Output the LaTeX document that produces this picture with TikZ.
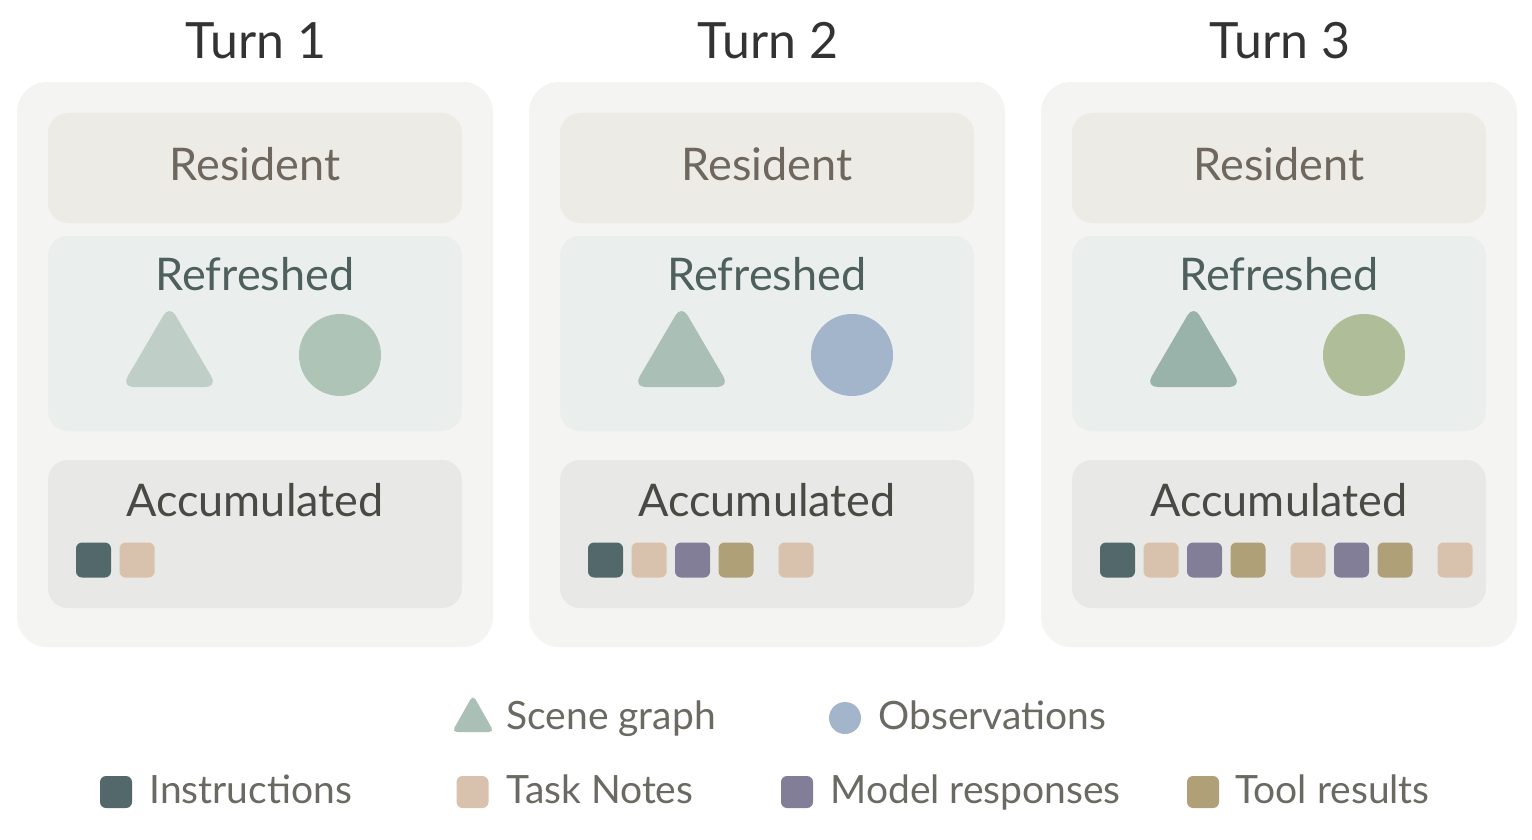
\documentclass[tikz,border=0pt]{standalone}
\usepackage{fontspec}
\setmainfont{Lato}
\definecolor{panelbg}{HTML}{F4F4F2}
\definecolor{resbg}{HTML}{ECEBE6}
\definecolor{refbg}{HTML}{EAEEEC}
\definecolor{accbg}{HTML}{E8E8E6}
\definecolor{titlec}{HTML}{333333}
\definecolor{resc}{HTML}{6E675E}
\definecolor{refc}{HTML}{4E605D}
\definecolor{accc}{HTML}{4A4A45}
\definecolor{legc}{HTML}{6A6962}
\definecolor{triA}{HTML}{BFCFC7}
\definecolor{triB}{HTML}{AABFB5}
\definecolor{triC}{HTML}{9AB3AA}
\definecolor{cirA}{HTML}{AEC4B6}
\definecolor{cirB}{HTML}{A3B5CB}
\definecolor{cirC}{HTML}{AFBE98}
\definecolor{instc}{HTML}{52686B}
\definecolor{taskc}{HTML}{D8C2AE}
\definecolor{modc}{HTML}{827E98}
\definecolor{toolc}{HTML}{B0A078}
\begin{document}
\begin{tikzpicture}[x=0.5pt,y=-0.5pt,
  panel/.style={rectangle, rounded corners=15pt, fill=panelbg, minimum width=238pt, minimum height=282.5pt, inner sep=0pt},
  inbox/.style={rectangle, rounded corners=10pt, minimum width=207pt, inner sep=0pt},
  titletext/.style={anchor=base, text=titlec, font=\fontsize{25}{30}\selectfont},
  boxtext/.style={anchor=base, font=\fontsize{22.5}{27}\selectfont},
  legtext/.style={anchor=base west, text=legc, font=\fontsize{19.5}{23}\selectfont, inner sep=0pt},
  sq/.style={rectangle, rounded corners=3pt, minimum size=17.5pt, inner sep=0pt},
  lsq/.style={rectangle, rounded corners=3pt, minimum size=16pt, inner sep=0pt},
  dot/.style={circle, inner sep=0pt}
]
\useasboundingbox (0,0) rectangle (1532,840);

\foreach \i/\ox/\tc/\cc in {1/0/triA/cirA, 2/512/triB/cirB, 3/1024/triC/cirC}{
  \node[titletext] (title\i) at (256+\ox,59) {Turn \i};
  \node[panel] (pan\i) at (255+\ox,364.5) {};
  \node[inbox, fill=resbg, minimum height=55pt] (res\i) at (255+\ox,168) {};
  \node[boxtext, text=resc] (reslab\i) at (255+\ox,181) {Resident};
  \node[inbox, fill=refbg, minimum height=97.5pt] (ref\i) at (255+\ox,333.5) {};
  \node[boxtext, text=refc] (reflab\i) at (255+\ox,290) {Refreshed};
  \fill[\tc, rounded corners=6pt] (169.5+\ox,305) -- (217.5+\ox,387) -- (121.5+\ox,387) -- cycle;
  \node[dot, fill=\cc, minimum size=41pt] (obs\i) at (340+\ox,355) {};
  \node[inbox, fill=accbg, minimum height=74pt] (acc\i) at (255+\ox,534) {};
  \node[boxtext, text=accc] (acclab\i) at (255+\ox,516) {Accumulated};
}

% accumulated squares
\node[sq, fill=instc] (a1) at (93.5,560) {};
\node[sq, fill=taskc] (a2) at (137,560) {};

\node[sq, fill=instc] (b1) at (605.5,560) {};
\node[sq, fill=taskc] (b2) at (649,560) {};
\node[sq, fill=modc]  (b3) at (692.5,560) {};
\node[sq, fill=toolc] (b4) at (736,560) {};
\node[sq, fill=taskc] (b5) at (796,560) {};

\node[sq, fill=instc] (c1) at (1117.5,560) {};
\node[sq, fill=taskc] (c2) at (1161,560) {};
\node[sq, fill=modc]  (c3) at (1204.5,560) {};
\node[sq, fill=toolc] (c4) at (1248,560) {};
\node[sq, fill=taskc] (c5) at (1308,560) {};
\node[sq, fill=modc]  (c6) at (1351.5,560) {};
\node[sq, fill=toolc] (c7) at (1395,560) {};
\node[sq, fill=taskc] (c8) at (1455,560) {};

% legend row 1
\fill[triB, rounded corners=2.5pt] (473,695) -- (494,732) -- (452,732) -- cycle;
\node[legtext] (lscene) at (506,729) {Scene graph};
\node[dot, fill=cirB, minimum size=16pt] (lobsdot) at (845,718) {};
\node[legtext] (lobs) at (878,729) {Observations};

% legend row 2
\node[lsq, fill=instc] (linstsq) at (116,792) {};
\node[legtext] (linst) at (149,803) {Instructions};
\node[lsq, fill=taskc] (ltasksq) at (472.5,792) {};
\node[legtext] (ltask) at (506,803) {Task Notes};
\node[lsq, fill=modc] (lmodsq) at (797,792) {};
\node[legtext] (lmod) at (830,803) {Model responses};
\node[lsq, fill=toolc] (ltoolsq) at (1203,792) {};
\node[legtext] (ltool) at (1235,803) {Tool results};
\end{tikzpicture}
\end{document}
